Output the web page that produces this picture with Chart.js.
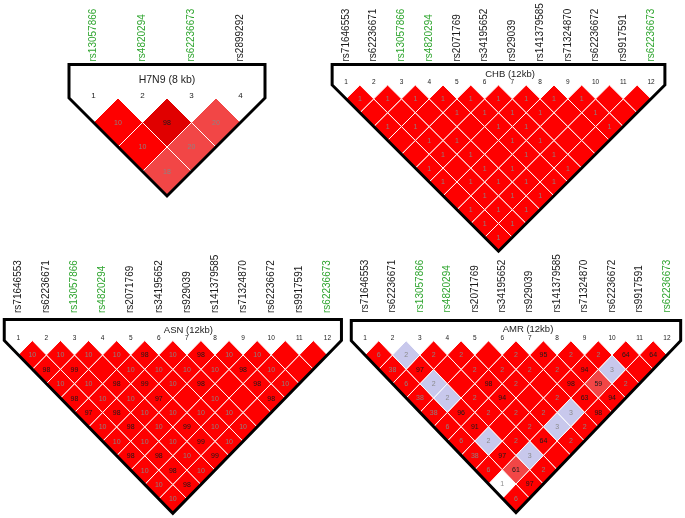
<!DOCTYPE html>
<html>
<head>
<meta charset="utf-8">
<script src="https://cdn.jsdelivr.net/npm/chart.js@4.4.1/dist/chart.umd.min.js"></script>
<style>
  body { margin: 0; background: #fff; overflow: hidden; width: 685px; height: 518px; position: relative; }
  canvas { position: absolute; }
</style>
</head>
<body>
<script>
// SNP names (left to right)
const snps12 = ['rs71646553', 'rs62236671', 'rs13057866', 'rs4820294', 'rs2071769', 'rs34195652',
  'rs929039', 'rs141379585', 'rs71324870', 'rs62236672', 'rs9917591', 'rs62236673'];
const green12 = [3, 4, 12];
const h7n9Snps = ['rs13057866', 'rs4820294', 'rs62236673', 'rs2899292'];
const h7n9Green = [1, 2, 3];

// cell values, one row per marker distance (1, 2, 3 ...), '' = empty cell
// shade codes: r strong LD, d darker red, p partial, b low LOD, w none
const h7n9Values = [['10', '98', '20'], ['10', '20'], ['18']];
const h7n9Shades = ['rdp', 'rp', 'p'];

const chbValues = [
  ['1', '1', '1', '1', '1', '1', '1', '1', '1', '', ''],
  ['', '', '', '1', '1', '1', '1', '', '1', ''],
  ['1', '1', '', '', '1', '1', '', '', '1'],
  ['', '1', '1', '', '1', '1', '', ''],
  ['', '1', '1', '', '1', '1', ''],
  ['1', '', '1', '1', '', '1'],
  ['1', '1', '1', '1', '1'],
  ['', '1', '1', '1'],
  ['1', '1', '1'],
  ['1', '1'],
  ['1']
];
const chbShades = ['rrrrrrrrrrr', 'rrrrrrrrrr', 'rrrrrrrrr', 'rrrrrrrr', 'rrrrrrr', 'rrrrrr', 'rrrrr', 'rrrr', 'rrr', 'rr', 'r'];

const asnValues = [
  ['10', '10', '10', '10', '98', '10', '98', '10', '10', '', ''],
  ['98', '99', '', '10', '10', '10', '10', '98', '10', ''],
  ['10', '10', '98', '99', '10', '98', '', '98', '10'],
  ['98', '10', '10', '97', '', '10', '', '98'],
  ['97', '98', '10', '10', '10', '10', ''],
  ['10', '98', '10', '99', '10', '10'],
  ['10', '10', '10', '99', '10'],
  ['98', '98', '10', '99'],
  ['10', '98', '10'],
  ['10', '98'],
  ['10']
];
const asnShades = chbShades;

const amrValues = [
  ['6', '2', '2', '2', '', '2', '95', '2', '2', '64', '64'],
  ['38', '97', '', '2', '2', '2', '2', '94', '3', ''],
  ['6', '2', '', '98', '2', '', '98', '59', '2'],
  ['38', '2', '2', '94', '', '2', '63', '94'],
  ['38', '96', '2', '2', '2', '3', '98'],
  ['6', '91', '', '2', '3', '2'],
  ['6', '2', '2', '64', '2'],
  ['38', '97', '3', ''],
  ['6', '61', '2'],
  ['1', '97'],
  ['6']
];
const amrShades = ['rbrrrrrrrrr', 'rrrrrrrrbr', 'rbrrrrrpr', 'rbrrrrrr', 'rrrrrbr', 'rrrrbr', 'rbrrr', 'rrbr', 'rpr', 'wr', 'r'];

const shadeColor = { r: '#fe0000', d: '#e00000', p: '#f24646', b: '#c8c8ec', w: '#ffffff' };
const GREEN = '#2fa52f';
const FONT = "'Liberation Sans', Arial, sans-serif";
Chart.defaults.font.family = FONT;

// where each block sits on the page
const panels = [
  { title: 'H7N9 (8 kb)', snps: h7n9Snps, green: h7n9Green, values: h7n9Values, shades: h7n9Shades,
    x1: 93.5, sx: 49, yTop: 98, sy: 49, box: 33.5, top: 0, gap: 0, titleDx: 0, titleDy: 18, titleSize: 10.5, numDy: 2, numSize: 8 },
  { title: 'CHB (12kb)', snps: snps12, green: green12, values: chbValues, shades: chbShades,
    x1: 346, sx: 27.73, yTop: 85, sy: 27.7, box: 20.5, top: 0, gap: 0, titleDx: 11.5, titleDy: 11, titleSize: 9.5, numDy: 2.5, numSize: 6.5 },
  { title: 'ASN (12kb)', snps: snps12, green: green12, values: asnValues, shades: asnShades,
    x1: 18.3, sx: 28.1, yTop: 340.5, sy: 28.8, box: 21, top: 252, gap: 3.5, titleDx: 15.5, titleDy: 10.5, titleSize: 9.5, numDy: 2, numSize: 6.5 },
  { title: 'AMR (12kb)', snps: snps12, green: green12, values: amrValues, shades: amrShades,
    x1: 365, sx: 27.45, yTop: 340.7, sy: 28.66, box: 20.2, top: 252, gap: 5, titleDx: 12, titleDy: 11.4, titleSize: 9.5, numDy: 2.7, numSize: 6.5 }
];

function cellsOf(p) {
  const n = p.snps.length;
  const cells = [];
  for (let d = 1; d < n; d++) {
    for (let i = 1; i + d <= n; i++) {
      cells.push({ i: i, j: i + d, value: p.values[d - 1][i - 1], shade: p.shades[d - 1][i - 1] });
    }
  }
  return cells;
}

function textPlugin(p, cells) {
  return {
    id: 'ldText',
    afterDatasetsDraw(chart) {
      const ctx = chart.ctx;
      const xs = chart.scales.x, ys = chart.scales.y;
      const n = p.snps.length;
      ctx.save();
      ctx.textAlign = 'center';
      ctx.textBaseline = 'middle';
      // cell values
      ctx.font = '7px ' + FONT;
      cells.forEach(c => {
        if (c.value === '') return;
        ctx.fillStyle = Number(c.value) >= 50 ? '#1a1a1a' : 'rgba(135,135,135,0.95)';
        ctx.fillText(c.value, xs.getPixelForValue((c.i + c.j) / 2), ys.getPixelForValue(-(c.j - c.i) / 2) + 0.5);
      });
      // marker numbers
      ctx.fillStyle = '#222';
      ctx.font = p.numSize + 'px ' + FONT;
      for (let k = 1; k <= n; k++) {
        ctx.fillText(String(k), xs.getPixelForValue(k), ys.getPixelForValue(0) - p.numDy);
      }
      // block title
      ctx.font = p.titleSize + 'px ' + FONT;
      ctx.fillText(p.title, xs.getPixelForValue((n + 1) / 2) + p.titleDx, ys.getPixelForValue(0) - p.titleDy);
      ctx.restore();
    }
  };
}

function buildPanel(p) {
  const n = p.snps.length;
  const mpx = 4, mpy = 3;
  const left = Math.round(p.x1 - p.sx / 2 - mpx);
  const width = Math.ceil(n * p.sx + 2 * mpx);
  const xMin = 1 + (left - p.x1) / p.sx;
  const xMax = xMin + width / p.sx;
  const yMax = (p.box + mpy) / p.sy;
  const band = p.yTop - yMax * p.sy - p.top;
  const height = Math.ceil(band + (yMax + n / 2) * p.sy + mpy);
  const yMin = yMax - (height - band) / p.sy;

  const canvas = document.createElement('canvas');
  canvas.width = width;
  canvas.height = height;
  canvas.style.left = left + 'px';
  canvas.style.top = p.top + 'px';
  canvas.style.width = width + 'px';
  canvas.style.height = height + 'px';
  document.body.appendChild(canvas);

  const cells = cellsOf(p);
  const datasets = cells.map(c => {
    const cx = (c.i + c.j) / 2, cy = -(c.j - c.i) / 2;
    return {
      data: [{ x: cx - 0.5, y: cy }, { x: cx, y: cy + 0.5 }, { x: cx + 0.5, y: cy }, { x: cx, y: cy - 0.5 }, { x: cx - 0.5, y: cy }],
      backgroundColor: shadeColor[c.shade],
      borderColor: '#ffffff',
      borderWidth: 1,
      borderJoinStyle: 'miter',
      fill: 'shape',
      order: 1
    };
  });
  const h = p.box / p.sy;
  datasets.push({
    data: [{ x: 0.5, y: 0 }, { x: 0.5, y: h }, { x: n + 0.5, y: h }, { x: n + 0.5, y: 0 },
      { x: (n + 1) / 2, y: -n / 2 }, { x: 0.5, y: 0 }, { x: 0.5, y: h }],
    borderColor: '#000000',
    borderWidth: 3,
    borderJoinStyle: 'miter',
    fill: false,
    order: 0
  });

  new Chart(canvas, {
    type: 'line',
    data: { datasets: datasets },
    options: {
      responsive: false,
      animation: false,
      events: [],
      layout: { padding: 0 },
      elements: { point: { radius: 0 }, line: { tension: 0 } },
      plugins: { legend: { display: false }, tooltip: { enabled: false } },
      scales: {
        x: {
          type: 'linear',
          position: 'top',
          min: xMin,
          max: xMax,
          grid: { display: false, drawTicks: false },
          border: { display: false },
          afterBuildTicks: s => { s.ticks = p.snps.map((_, k) => ({ value: k + 1 })); },
          afterFit: s => { s.height = band; },
          ticks: {
            autoSkip: false,
            minRotation: 90,
            maxRotation: 90,
            padding: p.gap,
            labelOffset: 12,
            font: { size: 10 },
            color: c => p.green.includes(c.tick && c.tick.value) ? GREEN : '#1a1a1a',
            callback: v => p.snps[v - 1] || ''
          }
        },
        y: { type: 'linear', display: false, min: yMin, max: yMax }
      }
    },
    plugins: [textPlugin(p, cells)]
  });
}

panels.forEach(buildPanel);
</script>
</body>
</html>
